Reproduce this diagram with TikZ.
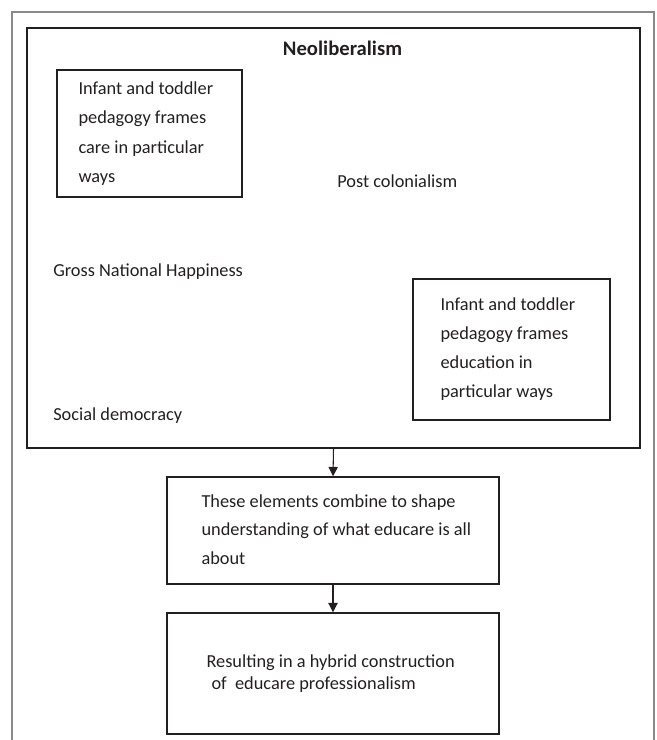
\documentclass[tikz,border=0pt]{standalone}
\usepackage{fontspec}
\setmainfont{Carlito}
\usepackage{tikz}
\usetikzlibrary{arrows.meta,positioning,calc}
\definecolor{inkdark}{HTML}{231F20}
\definecolor{framegray}{HTML}{8A8A8A}

\tikzset{
  framebox/.style={draw=inkdark,line width=1.1pt},
  boxtext/.style={text=inkdark,align=left,inner sep=0pt,anchor=west},
  plainlabel/.style={text=inkdark,inner sep=0pt,anchor=west,font=\fontsize{13.75}{16}\selectfont},
  flowarrow/.style={-{Triangle[length=7pt,width=7pt]},draw=inkdark,line width=0.8pt}
}

\begin{document}
\begin{tikzpicture}[x=0.75pt,y=-0.75pt]
    \useasboundingbox (0,0) rectangle (657,740);
    % gray page frame, open at the bottom
    \draw[framegray,line width=0.8pt] (12,745) -- (12,12) -- (654,12) -- (654,745);
    % outer context box
    \node[draw=inkdark,line width=1.2pt,minimum width=459.75pt,minimum height=315pt] (context) at (333.5,238) {};
    \node[text=inkdark,font=\bfseries\fontsize{15.5}{18}\selectfont] (neolib) at (342.5,48) {Neoliberalism};
    % framing boxes
    \node[framebox,minimum width=138.75pt,minimum height=95.25pt] (carebox) at (149.5,133.5) {};
    \node[boxtext,font=\fontsize{13.75}{22.1}\selectfont] (caretext) at ($(carebox.west)+(22,0)$)
      {Infant and toddler\\ pedagogy frames\\ care in particular\\ ways};
    \node[framebox,minimum width=147.75pt,minimum height=105.75pt] (edubox) at (511.5,349.5) {};
    \node[boxtext,font=\fontsize{13.75}{21.8}\selectfont] (edutext) at ($(edubox.west)+(28,0)$)
      {Infant and toddler\\ pedagogy frames\\ education in\\ particular ways};
    % loose labels
    \node[plainlabel] (postcol) at (337,181) {Post colonialism};
    \node[plainlabel] (gnh) at (53,272) {Gross National Happiness};
    \node[plainlabel] (socdem) at (53,416) {Social democracy};
    % result chain
    \node[framebox,minimum width=249pt,minimum height=80.25pt] (combine) at (333,530.5) {};
    \node[boxtext,font=\fontsize{13.75}{21.4}\selectfont] (combinetext) at ($(combine.west)+(35,-1)$)
      {These elements combine to shape\\ understanding of what educare is all\\ about};
    \node[framebox,minimum width=249pt,minimum height=90.75pt] (hybrid) at (333,673.5) {};
    \node[boxtext,font=\fontsize{13.75}{16.5}\selectfont] (hybridtext) at ($(hybrid.west)+(40,0)$)
      {Resulting in a hybrid construction\\ \hspace*{3.75pt}of\ \ educare professionalism};
    % arrows
    \draw[flowarrow] (context.south) -- (combine.north);
    \draw[flowarrow] (combine) -- (hybrid);
\end{tikzpicture}
\end{document}
